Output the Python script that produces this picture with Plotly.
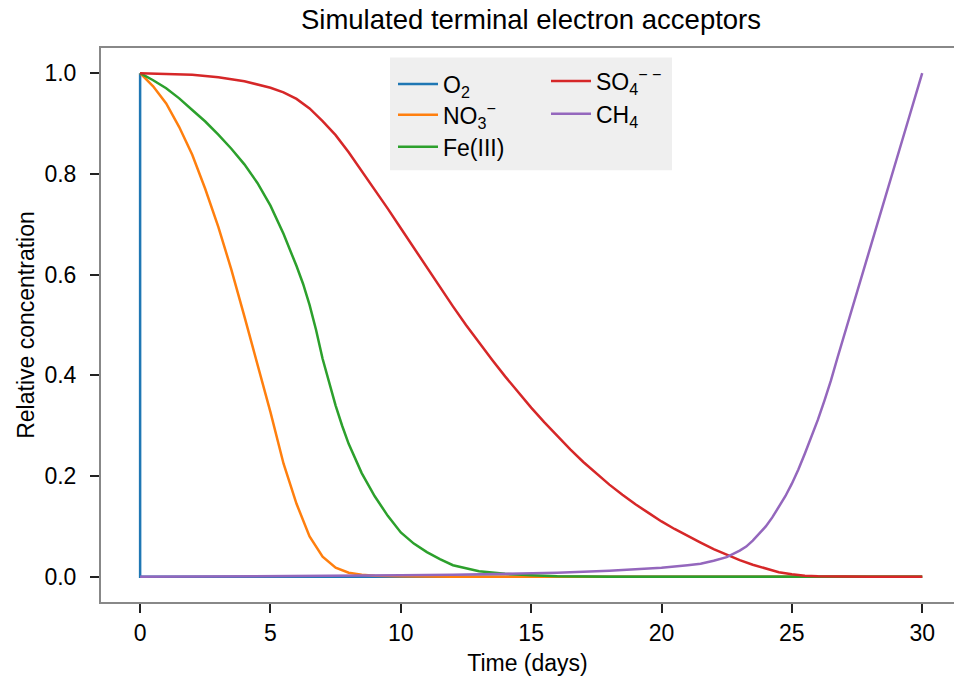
import plotly.graph_objects as go

# ---- data (relative concentrations vs time in days) ----
o2_days = [0.0, 0.001, 30.0]
o2 = [1.0, 0.0, 0.0]

no3_days = [0, 0.5, 1, 1.5, 2, 2.5, 3, 3.5, 4, 4.5, 5, 5.5, 6, 6.5, 7, 7.5,
            8, 8.5, 9, 10, 12, 15, 20, 25, 30]
no3 = [1.0, 0.974, 0.940, 0.893, 0.838, 0.770, 0.695, 0.610, 0.517, 0.423,
       0.327, 0.225, 0.145, 0.080, 0.040, 0.018, 0.008, 0.004, 0.002, 0.001,
       0.0, 0.0, 0.0, 0.0, 0.0]

fe_days = [0, 0.5, 1, 1.5, 2, 2.5, 3, 3.5, 4, 4.5, 5, 5.5, 6, 6.25, 6.5,
           6.75, 7, 7.25, 7.5, 7.75, 8, 8.5, 9, 9.5, 10, 10.5, 11, 11.5, 12,
           13, 14, 15, 16, 18, 20, 25, 30]
fe = [1.0, 0.986, 0.970, 0.950, 0.927, 0.904, 0.878, 0.850, 0.819, 0.782,
      0.737, 0.681, 0.617, 0.582, 0.540, 0.490, 0.433, 0.384, 0.340, 0.300,
      0.264, 0.206, 0.160, 0.121, 0.088, 0.066, 0.049, 0.035, 0.023, 0.011,
      0.006, 0.003, 0.001, 0.0, 0.0, 0.0, 0.0]

so4_days = [0, 1, 2, 3, 4, 5, 5.5, 6, 6.5, 7, 7.5, 8, 8.5, 9, 9.5, 10, 10.5,
            11, 11.5, 12, 12.5, 13, 13.5, 14, 14.5, 15, 15.5, 16, 16.5, 17,
            17.5, 18, 18.5, 19, 19.5, 20, 20.5, 21, 21.5, 22, 22.5, 23, 23.5,
            24, 24.5, 25, 25.5, 26, 27, 28, 30]
so4 = [1.0, 0.999, 0.997, 0.992, 0.984, 0.971, 0.962, 0.949, 0.930, 0.905,
       0.877, 0.843, 0.806, 0.769, 0.731, 0.692, 0.653, 0.614, 0.575, 0.537,
       0.500, 0.465, 0.431, 0.398, 0.366, 0.336, 0.307, 0.279, 0.253, 0.228,
       0.205, 0.183, 0.163, 0.144, 0.127, 0.110, 0.095, 0.081, 0.068, 0.055,
       0.044, 0.033, 0.024, 0.016, 0.009, 0.005, 0.002, 0.001, 0.0, 0.0, 0.0]

ch4_days = [0, 5, 10, 12, 14, 16, 18, 19, 20, 21, 21.5, 22, 22.5, 23, 23.25,
            23.5, 23.75, 24, 24.25, 24.5, 24.75, 25, 25.25, 25.5, 25.75, 26,
            26.25, 26.5, 26.75, 27, 27.5, 28, 28.5, 29, 29.5, 30]
ch4 = [0.0, 0.001, 0.003, 0.004, 0.006, 0.008, 0.012, 0.015, 0.018, 0.023,
       0.026, 0.032, 0.039, 0.052, 0.060, 0.072, 0.085, 0.100, 0.118, 0.138,
       0.160, 0.185, 0.213, 0.245, 0.278, 0.312, 0.350, 0.390, 0.435, 0.478,
       0.565, 0.652, 0.739, 0.826, 0.913, 1.0]

names = ["O<sub>2</sub>", "NO<sub>3</sub><sup>−</sup>", "Fe(III)",
         "SO<sub>4</sub><sup>− −</sup>", "CH<sub>4</sub>"]
days = [o2_days, no3_days, fe_days, so4_days, ch4_days]
values = [o2, no3, fe, so4, ch4]
colors = ["#1f77b4", "#ff7f0e", "#2ca02c", "#d62728", "#9467bd"]

FONT = "Liberation Sans, Arial, sans-serif"
FS = 23
W, H = 954, 677
ML, MR, MT, MB = 101, 0, 47.5, 74.5
plot_w = W - ML - MR
plot_h = H - MT - MB


def px_x(p):
    return (p - ML) / plot_w


def px_y(p):
    return 1 - (p - MT) / plot_h


# legend grid: two columns, one single-entry legend per slot (left px, top px)
legend_slots = [(393, 62), (393, 93), (393, 125), (546, 59), (546, 92)]

fig = go.Figure()
legend_layouts = {}
for i in range(len(names)):
    key = "legend" if i == 0 else f"legend{i + 1}"
    fig.add_trace(go.Scatter(
        x=days[i], y=values[i], mode="lines", name=names[i],
        line=dict(color=colors[i], width=2.5), legend=key,
    ))
    lx, ly = legend_slots[i]
    legend_layouts[key] = dict(
        x=px_x(lx), y=px_y(ly), xanchor="left", yanchor="top",
        bgcolor="rgba(0,0,0,0)", borderwidth=0, itemwidth=40,
        font=dict(family=FONT, size=FS, color="#000"),
    )

fig.update_layout(
    width=W, height=H,
    margin=dict(l=ML, r=MR, t=MT, b=MB, pad=0),
    paper_bgcolor="white", plot_bgcolor="white",
    font=dict(family=FONT, size=FS, color="#000"),
    title=dict(text="Simulated terminal electron acceptors",
               x=(531 - ML) / plot_w, xref="paper", xanchor="center",
               y=1 - 19 / H, yref="container", yanchor="middle",
               font=dict(family=FONT, size=27.5, color="#000")),
    showlegend=True,
    shapes=[dict(type="rect", xref="paper", yref="paper",
                 x0=px_x(390), x1=px_x(672), y0=px_y(170), y1=px_y(57),
                 fillcolor="#efefef", line=dict(width=0), layer="below")],
    **legend_layouts,
)

fig.update_xaxes(
    range=[-1.5, -1.5 + plot_w / 26.07], tickvals=[0, 5, 10, 15, 20, 25, 30],
    showgrid=False, zeroline=False,
    showline=True, linecolor="#888888", linewidth=2, mirror=True,
    ticks="outside", ticklen=9, tickwidth=1.5, tickcolor="#222",
    tickfont=dict(family=FONT, size=FS, color="#000"),
    title=dict(text="Time (days)", font=dict(family=FONT, size=FS, color="#000"),
               standoff=10),
)
fig.update_yaxes(
    range=[-0.05, 1.05], tickvals=[0, 0.2, 0.4, 0.6, 0.8, 1.0],
    ticktext=["0.0", "0.2", "0.4", "0.6", "0.8", "1.0"],
    showgrid=False, zeroline=False,
    showline=True, linecolor="#888888", linewidth=2, mirror=False,
    ticks="outside", ticklen=9, tickwidth=1.5, tickcolor="#222",
    ticklabelstandoff=9,
    tickfont=dict(family=FONT, size=FS, color="#000"),
    title=dict(text="Relative concentration",
               font=dict(family=FONT, size=FS, color="#000"), standoff=3),
)

fig.write_html("out.html")
